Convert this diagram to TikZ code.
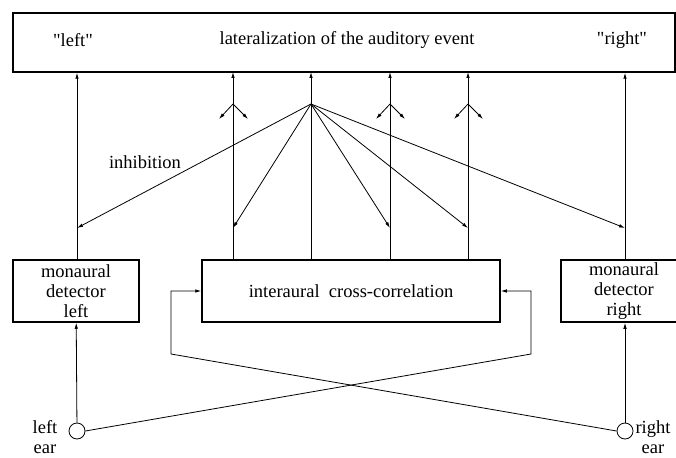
\documentclass[tikz,border=0pt]{standalone}
\usepackage{fontspec}
\setmainfont{Liberation Serif}[Ligatures=TeXOff]
\usetikzlibrary{arrows.meta}
\tikzset{
  blok/.style={draw,line width=1.5pt,inner sep=0pt,align=center},
  oor/.style={draw,circle,minimum size=16pt,inner sep=0pt,line width=0.8pt},
  lijn/.style={draw,line width=0.8pt},
  pijl/.style={lijn,-{Latex[length=6pt,width=3.5pt]}}
}
\begin{document}
\begin{tikzpicture}[x=1pt,y=-1pt,font=\fontsize{18.5}{20}\selectfont]
\useasboundingbox (0,0) rectangle (676,457);
%\path[draw] (0,0) rectangle (676,457);
\node[blok,minimum width=662pt,minimum height=59pt] (event) at (344,42.5) {};
\path (73,40)node (nodeL) {"left"};
\path (347,40)node (nodeE) {lateralization of the auditory event};
\path (622,40)node (nodeR) {"right"};
\node[blok,minimum width=126pt,minimum height=62pt] (detL) at (76,291) {monaural\\detector\\left};
\node[blok,minimum width=298pt,minimum height=62pt] (corr) at (351,291) {interaural\ \ cross-correlation};
\node[blok,minimum width=126pt,minimum height=62pt] (detR) at (624,291) {monaural\\detector\\right};
\node[oor] (earL) at (77,431) {};
\node[oor] (earR) at (625,431) {};
\path (45,437)node[align=center] (labL) {left\\ear};
\path (653,437)node[align=center] (labR) {right\\ear};
\path (145,162)node (inhib) {inhibition};
\coordinate (hub) at (311,104);
\coordinate (kruisL) at (171,354);
\coordinate (kruisR) at (531,354);
% ears to detectors
\draw[pijl] (earL) -- (detL);
\draw[pijl] (earR) -- (earR |- detR.south);
\draw[pijl] (earL.east) -- (kruisR) -- (kruisR |- corr.east) -- (corr.east);
\draw[pijl] (earR.west) -- (kruisL) -- (kruisL |- corr.west) -- (corr.west);
% up to the event
\draw[pijl] (earL |- detL.north) -- (earL |- event.south);
\draw[pijl] (earR |- detR.north) -- (earR |- event.south);
\foreach \x in {233,311,390,468}
  \draw[pijl] (\x,260) -- (\x,72);
% inhibition
\foreach \x in {77,233,390,468,625}
  \draw[pijl] (hub) -- (\x,228);
\foreach \x in {233,390,468}{
  \draw[pijl] (\x,104) -- ++(-14,15);
  \draw[pijl] (\x,104) -- ++(15,15);
}
\end{tikzpicture}
\end{document}
